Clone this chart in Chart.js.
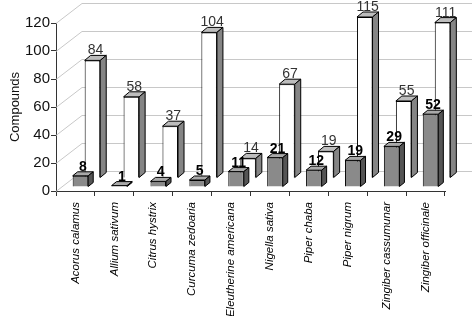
<!DOCTYPE html>
<html><head><meta charset="utf-8">
<style>html,body{margin:0;padding:0;background:#fff}#wrap{width:472px;height:316px;position:relative}</style>
<script src="https://cdn.jsdelivr.net/npm/chart.js@4/dist/chart.umd.min.js"></script>
</head><body><div id="wrap"><canvas id="c" width="472" height="316"></canvas></div>
<script>
const categories = ['Acorus calamus','Allium sativum','Citrus hystrix','Curcuma zedoaria','Eleutherine americana','Nigella sativa','Piper chaba','Piper nigrum','Zingiber cassumunar','Zingiber officinale'];
const frontSeries = [8, 1, 4, 5, 11, 21, 12, 19, 29, 52];
const backSeries = [84, 58, 37, 104, 14, 67, 19, 115, 55, 111];
const yMin = 0, yMax = 120, yStep = 20;
const yTitle = 'Compounds';

const FONT = '"Liberation Sans", Arial, sans-serif';

const threeD = {
  id: 'threeD',
  beforeDatasetsDraw(chart) {
    const ctx = chart.ctx, ys = chart.scales.y, ca = chart.chartArea;
    ctx.save();
    ctx.strokeStyle = '#c8c8c8';
    ctx.lineWidth = 1;
    for (let v = yMin; v <= yMax; v += yStep) {
      const y = Math.round(ys.getPixelForValue(v)) + 0.5;
      ctx.beginPath();
      ctx.moveTo(ca.left, y);
      ctx.lineTo(ca.left + 26, y - 20);
      ctx.lineTo(chart.width, y - 20);
      ctx.stroke();
    }
    ctx.restore();
  },
  beforeDatasetDraw(chart, args) {
    const ds = chart.data.datasets[args.index];
    chart.ctx.save();
    chart.ctx.translate(ds.shiftX, ds.shiftY);
  },
  afterDatasetDraw(chart, args) {
    const ctx = chart.ctx;
    const ds = chart.data.datasets[args.index];
    const dx = ds.depthX, dy = ds.depthY;
    args.meta.data.forEach((bar, i) => {
      const p = bar.getProps(['x', 'y', 'base', 'width'], true);
      const l = p.x - p.width / 2, r = p.x + p.width / 2;
      ctx.lineWidth = 1;
      ctx.strokeStyle = '#000';
      ctx.lineJoin = 'miter';
      ctx.beginPath();
      ctx.moveTo(l, p.y); ctx.lineTo(r, p.y); ctx.lineTo(r + dx, p.y - dy); ctx.lineTo(l + dx, p.y - dy); ctx.closePath();
      ctx.fillStyle = ds.topColor; ctx.fill(); ctx.stroke();
      ctx.beginPath();
      ctx.moveTo(r, p.y); ctx.lineTo(r + dx, p.y - dy); ctx.lineTo(r + dx, p.base - dy); ctx.lineTo(r, p.base); ctx.closePath();
      ctx.fillStyle = ds.sideColor; ctx.fill(); ctx.stroke();
      ctx.font = ds.labelFont;
      ctx.fillStyle = ds.labelColor;
      ctx.textAlign = 'center';
      ctx.textBaseline = 'alphabetic';
      ctx.fillText(String(ds.data[i]), p.x + dx / 2, p.y - dy - 1);
    });
    ctx.restore();
  }
};

new Chart(document.getElementById('c'), {
  type: 'bar',
  data: {
    labels: categories,
    datasets: [
      { data: frontSeries, backgroundColor: '#8a8a8a', borderColor: '#000', borderWidth: 1,
        topColor: '#a9a9a9', sideColor: '#555555', shiftX: 5, shiftY: -4, depthX: 5, depthY: 4,
        labelFont: 'bold 14px ' + FONT, labelColor: '#000', clip: false },
      { data: backSeries, backgroundColor: '#ffffff', borderColor: '#000', borderWidth: 1,
        topColor: '#bdbdbd', sideColor: '#858585', shiftX: 17, shiftY: -13, depthX: 6, depthY: 5,
        labelFont: '14px ' + FONT, labelColor: '#333', clip: false }
    ]
  },
  options: {
    responsive: false,
    animation: false,
    devicePixelRatio: 1,
    grouped: false,
    barPercentage: 0.4,
    categoryPercentage: 1,
    layout: { padding: { top: 23, right: 27, left: 0, bottom: 0 } },
    plugins: { legend: { display: false }, tooltip: { enabled: false } },
    scales: {
      x: {
        grid: { drawOnChartArea: false, drawTicks: true, tickLength: 5, color: '#333', offset: true },
        border: { display: true, color: '#333', width: 1 },
        ticks: { autoSkip: false, minRotation: 90, maxRotation: 90, padding: 6, color: '#000',
                 font: { family: FONT, size: 11.5, style: 'italic' } },
        afterFit(scale) { scale.height = 316 - 191; }
      },
      y: {
        min: yMin, max: yMax,
        grid: { drawOnChartArea: false, drawTicks: true, tickLength: 5, color: '#333' },
        border: { display: true, color: '#333', width: 1 },
        ticks: { stepSize: yStep, padding: 1, color: '#111', font: { family: FONT, size: 15 } },
        title: { display: true, text: yTitle, color: '#111', font: { family: FONT, size: 13 }, padding: { top: 8, bottom: 0 } },
        afterFit(scale) { scale.width = 56; }
      }
    }
  },
  plugins: [threeD]
});
</script></body></html>
